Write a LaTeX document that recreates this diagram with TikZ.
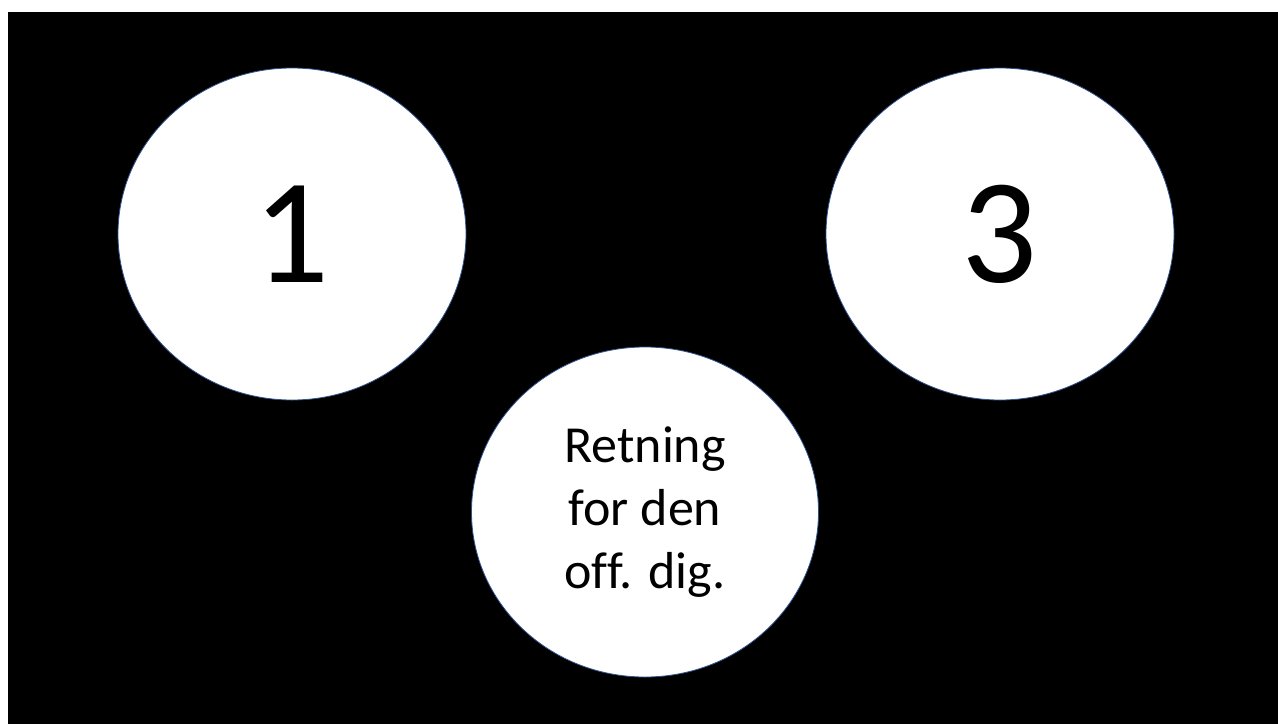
\documentclass[tikz,border=0pt]{standalone}
\usepackage{fontspec}
\setmainfont[Ligatures=NoCommon]{Carlito}
\usetikzlibrary{shapes.geometric}

\definecolor{rand}{HTML}{2F528F}
\tikzset{
  sirkel/.style={ellipse, draw=rand, line width=0.8pt, fill=white,
    minimum width=348pt, minimum height=332pt, inner sep=0pt, align=center}
}

\begin{document}
\begin{tikzpicture}[x=1pt, y=-1pt]
  \useasboundingbox (0,0) rectangle (1278,724);
  \fill[white] (0,0) rectangle (1278,724);
  \fill[black] (8,12) rectangle (1278,724);

  % de tre sirklene
  \node[sirkel, font=\fontsize{150}{150}\selectfont] (en) at (292,234) {1};
  \node[sirkel, font=\fontsize{150}{150}\selectfont] (tre) at (1000,234) {3};
  \node[sirkel, minimum width=347pt, minimum height=330pt,
    font=\fontsize{52}{63}\selectfont] (retning) at (645,512)
    {Retning\\for den\\off. dig.};
\end{tikzpicture}
\end{document}
